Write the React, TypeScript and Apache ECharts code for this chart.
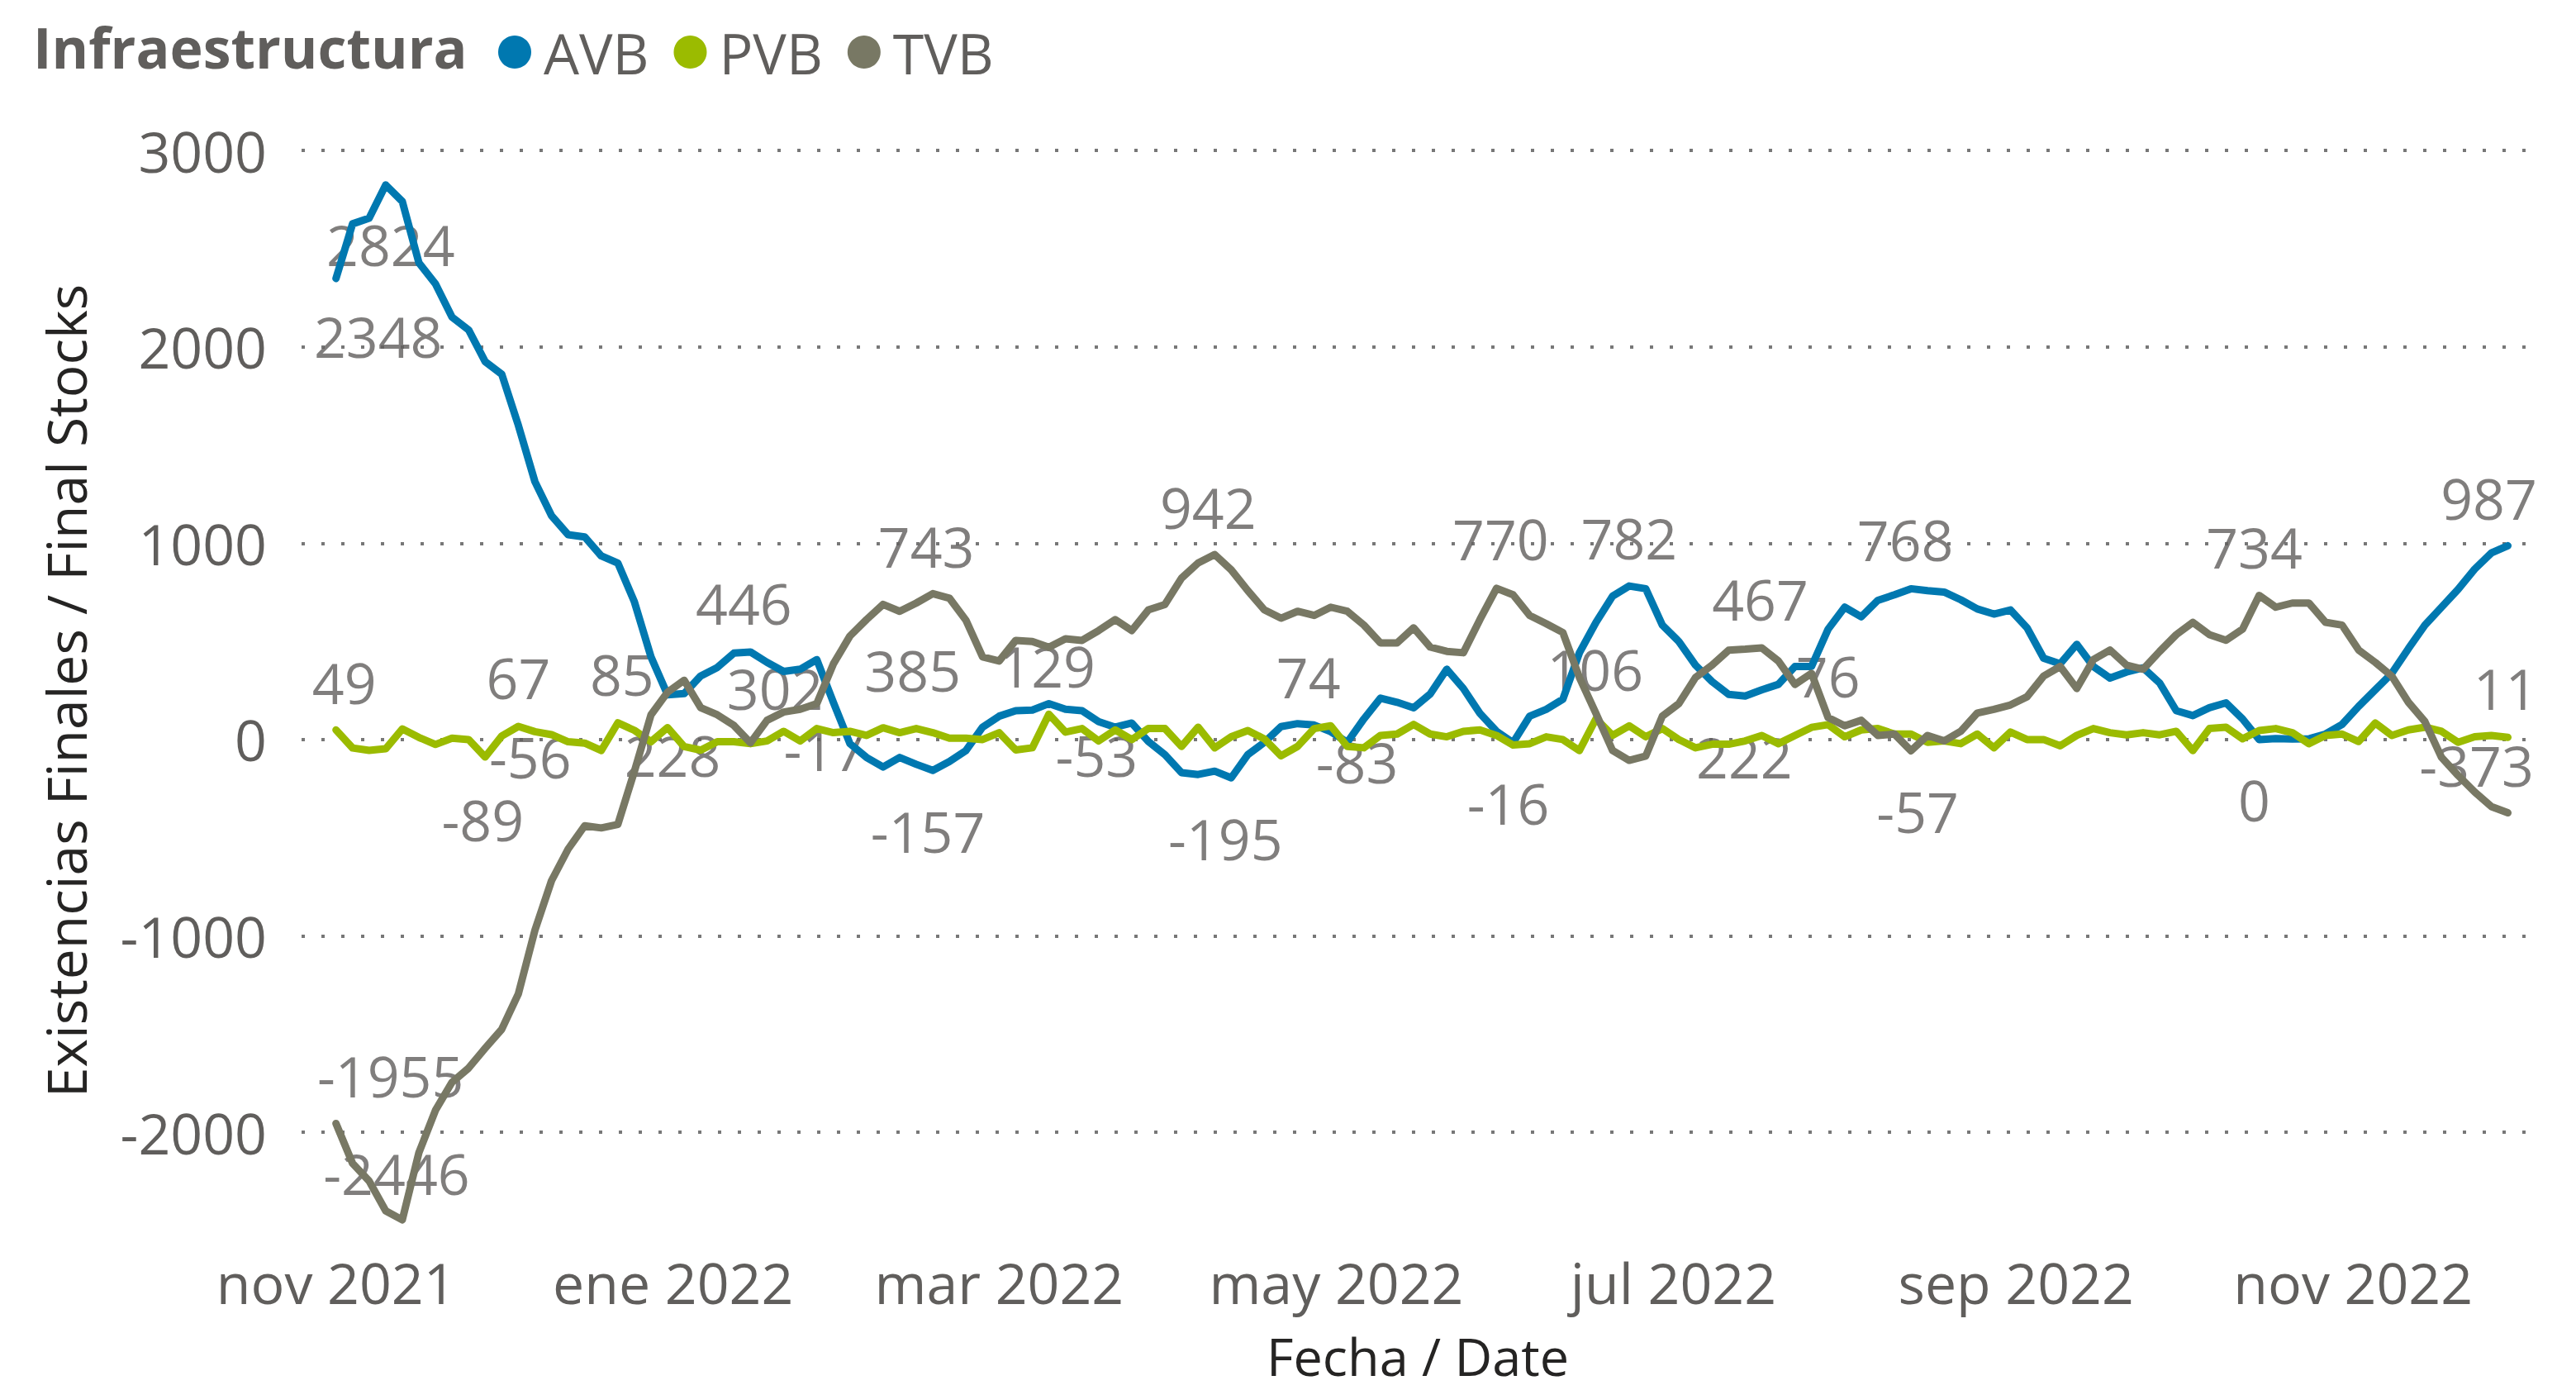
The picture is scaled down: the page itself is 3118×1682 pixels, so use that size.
import React, { useEffect, useRef } from "react";
import * as echarts from "echarts";

// ---------- data (one sample every 3 days from 1 Nov 2021) ----------
const START = Date.UTC(2021, 10, 1);
const STEP_DAYS = 3;
const DAY = 86400000;

const avb = [
  2348, 2626, 2655, 2824, 2740, 2428, 2320, 2151, 2086, 1924,
  1860, 1600, 1313, 1140, 1043, 1032, 935, 899, 701, 421,
  228, 234, 324, 367, 440, 446, 393, 347, 358, 407,
  190, -21, -91, -140, -91, -126, -157, -112, -56, 63,
  119, 147, 150, 183, 154, 147, 91, 63, 84, -10,
  -77, -169, -178, -161, -195, -77, -14, 66, 81, 74,
  40, -14, 105, 211, 190, 162, 232, 358, 260, 133,
  42, -16, 119, 154, 205, 442, 597, 730, 782, 768,
  583, 499, 379, 295, 230, 222, 253, 281, 372, 372,
  562, 674, 625, 709, 737, 768, 758, 751, 712, 665,
  639, 660, 569, 414, 386, 485, 372, 313, 344, 365,
  288, 147, 122, 162, 187, 105, 0, 5, 3, 4,
  28, 77, 169, 253, 337, 463, 583, 674, 765, 868,
  950, 987,
];

const pvb = [
  49, -43, -55, -47, 54, 11, -25, 7, 0, -89,
  18, 67, 40, 25, -11, -18, -56, 85, 47, -11,
  61, -36, -54, -11, -11, -21, -7, 42, -7, 56,
  35, 42, 21, 60, 35, 56, 35, 7, 7, 0,
  35, -53, -42, 129, 38, 56, -7, 49, 0, 56,
  56, -35, 63, -42, 14, 46, 3, -83, -35, 56,
  70, -35, -42, 21, 28, 77, 28, 14, 42, 49,
  21, -28, -21, 14, 0, -56, 106, 21, 70, 14,
  56, 0, -42, -24, -24, -7, 21, -21, 21, 62,
  76, 14, 49, 56, 28, 28, -14, -7, -21, 28,
  -42, 38, 0, 0, -32, 21, 56, 35, 24, 35,
  24, 42, -56, 56, 63, 4, 46, 56, 35, -21,
  21, 28, -10, 84, 21, 49, 63, 42, -14, 14,
  21, 11,
];

const tvb = [
  -1955, -2158, -2248, -2400, -2446, -2104, -1888, -1745, -1673, -1572,
  -1475, -1295, -971, -719, -558, -439, -450, -432, -162, 126,
  241, 302, 162, 126, 72, -17, 98, 140, 154, 183,
  385, 527, 611, 688, 653, 695, 743, 720, 607, 421,
  400, 505, 499, 470, 513, 505, 555, 611, 555, 660,
  688, 822, 899, 942, 864, 758, 660, 618, 653, 632,
  674, 653, 583, 492, 492, 569, 471, 449, 442, 611,
  770, 737, 632, 590, 545, 316, 133, -56, -106, -84,
  119, 183, 316, 379, 455, 460, 467, 400, 281, 337,
  112, 70, 98, 21, 28, -57, 21, -7, 42, 135,
  154, 176, 218, 323, 372, 260, 407, 456, 379, 358,
  449, 534, 597, 534, 506, 562, 734, 674, 695, 695,
  597, 583, 456, 393, 323, 190, 91, -91, -183, -267,
  -341, -373,
];

const dates = avb.map((_, i) => START + i * STEP_DAYS * DAY);

// month ticks shown on the date axis
const monthTicks = [
  Date.UTC(2021, 10, 1),
  Date.UTC(2022, 0, 1),
  Date.UTC(2022, 2, 1),
  Date.UTC(2022, 4, 1),
  Date.UTC(2022, 6, 1),
  Date.UTC(2022, 8, 1),
  Date.UTC(2022, 10, 1),
];
const MONTHS = ["ene", "feb", "mar", "abr", "may", "jun", "jul", "ago", "sep", "oct", "nov", "dic"];

// which samples carry a data label
const avbLabelIdx = [0, 3, 20, 25, 36, 54, 59, 71, 78, 85, 95, 116, 131];
const pvbLabelIdx = [0, 9, 11, 16, 17, 41, 43, 57, 76, 90, 131];
const tvbLabelIdx = [0, 4, 21, 25, 30, 36, 53, 70, 86, 95, 116, 131];

// label placement (pixel offsets from the point)
const avbLabelOffset = [
  [51, 70], [6, 72], [6, 73], [-8, -59], [-6, 73], [-7, 73], [-7, -59],
  [-6, 73], [0, -59], [-1, 73], [-7, -60], [-6, 73], [-23, -58],
];
const pvbLabelOffset = [
  [10, -58], [-3, 75], [0, -59], [-86, 7], [5, -59], [98, 6], [-2, -59],
  [92, 7], [-1, -60], [0, -59], [-3, -60],
];
const tvbLabelOffset = [
  [66, -58], [-7, -57], [110, 9], [90, 8], [96, 7], [-8, -58], [-8, -58],
  [5, -60], [-2, -59], [8, 73], [-6, -59], [-38, -58],
];

const COLORS: Record<string, string> = { AVB: "#0078B0", PVB: "#9BBB00", TVB: "#787864" };
const TEXT = "#605E5C";
const TITLE = "#252423";
const FONT = "'Open Sans', 'Noto Sans', sans-serif";

function lineSeries(name: string, vals: number[]) {
  return {
    type: "line",
    name,
    data: dates.map((d, i) => [d, vals[i]]),
    showSymbol: false,
    symbol: "none",
    z: 3,
    silent: true,
    lineStyle: { width: 9, color: COLORS[name], cap: "round", join: "round" },
    itemStyle: { color: COLORS[name] },
  };
}

function labelSeries(name: string, vals: number[], idx: number[], offs: number[][]) {
  return {
    type: "scatter",
    name: name + " etiquetas",
    z: 1,
    silent: true,
    symbolSize: 1,
    itemStyle: { color: "rgba(0,0,0,0)" },
    data: idx.map((i, k) => ({
      value: [dates[i], vals[i]],
      label: { offset: offs[k] },
    })),
    label: {
      show: true,
      position: "inside",
      formatter: (p: any) => String(p.value[1]),
      fontSize: 68,
      fontFamily: FONT,
      color: TEXT,
    },
  };
}

export default function App() {
  const ref = useRef<HTMLDivElement>(null);

  useEffect(() => {
    if (!ref.current) return;
    const chart = echarts.init(ref.current, null, { renderer: "svg" });
    const option: any = {
      animation: false,
      backgroundColor: "#ffffff",
      textStyle: { fontFamily: FONT },
      grid: { left: 365, right: 56, top: 182, bottom: 193, containLabel: false },
      legend: {
        data: ["AVB", "PVB", "TVB"],
        left: 598,
        top: 24,
        icon: "circle",
        itemWidth: 40,
        itemHeight: 40,
        itemGap: 30,
        selectedMode: false,
        textStyle: { fontSize: 68, color: TEXT, fontFamily: FONT, padding: [0, 0, 0, 10] },
      },
      graphic: [
        {
          type: "text",
          left: 40,
          top: 22,
          style: {
            text: "Infraestructura",
            fontSize: 68,
            fontWeight: "bold",
            fontFamily: FONT,
            fill: TEXT,
          },
        },
        {
          type: "text",
          x: 79,
          y: 836,
          rotation: Math.PI / 2,
          style: {
            text: "Existencias Finales / Final Stocks",
            fontSize: 66,
            fontFamily: FONT,
            fill: TITLE,
            textAlign: "center",
            textVerticalAlign: "middle",
          },
        },
        {
          type: "text",
          x: 1716,
          y: 1640,
          style: {
            text: "Fecha / Date",
            fontSize: 63,
            lineHeight: 63,
            fontFamily: FONT,
            fill: TITLE,
            textAlign: "center",
            textVerticalAlign: "middle",
          },
        },
      ],
      xAxis: {
        type: "value",
        min: START - 6.23 * DAY,
        max: START + 396.96 * DAY,
        axisLine: { show: false },
        axisTick: { show: false },
        splitLine: { show: false },
        axisLabel: {
          customValues: monthTicks,
          margin: 28,
          fontSize: 68,
          color: TEXT,
          fontFamily: FONT,
          formatter: (v: number) => {
            const d = new Date(v);
            return MONTHS[d.getUTCMonth()] + " " + d.getUTCFullYear();
          },
        },
      },
      yAxis: {
        type: "value",
        min: -2500,
        max: 3000,
        minInterval: 1000,
        maxInterval: 1000,
        axisLine: { show: false },
        axisTick: { show: false },
        axisLabel: {
          margin: 42,
          fontSize: 68,
          color: TEXT,
          fontFamily: FONT,
          showMinLabel: false,
          formatter: (v: number) => String(v),
        },
        splitLine: {
          show: true,
          showMinLine: false,
          lineStyle: { color: "#777777", width: 4, type: [4, 20] },
        },
      },
      series: [
        labelSeries("AVB", avb, avbLabelIdx, avbLabelOffset),
        labelSeries("PVB", pvb, pvbLabelIdx, pvbLabelOffset),
        labelSeries("TVB", tvb, tvbLabelIdx, tvbLabelOffset),
        lineSeries("AVB", avb),
        lineSeries("PVB", pvb),
        lineSeries("TVB", tvb),
      ],
    };
    chart.setOption(option);
    return () => chart.dispose();
  }, []);

  return (
    <div
      ref={ref}
      style={{ position: "fixed", left: 0, top: 0, width: 3118, height: 1682, background: "#fff" }}
    />
  );
}
